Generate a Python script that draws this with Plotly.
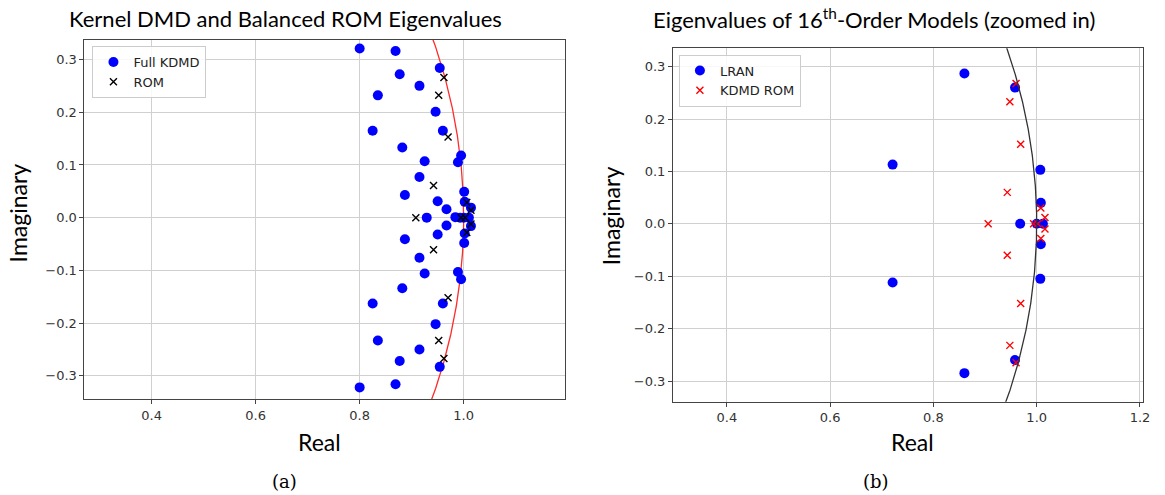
import numpy as np
import plotly.graph_objects as go

W, H = 1165, 495

# ---------------- data ----------------
# (a) Full KDMD eigenvalues
kdmd_real = [0.800, 0.869, 0.954, 0.877, 0.915, 0.835, 0.946, 0.825, 0.960, 0.882,
             0.995, 0.989, 0.925, 0.915, 0.887, 1.001, 0.950, 1.002, 0.967, 1.014,
             0.929, 0.984, 0.993, 1.000, 1.010,
             1.014, 0.967, 1.002, 0.950, 1.001, 0.887, 0.915, 0.925, 0.989, 0.995,
             0.882, 0.960, 0.825, 0.946, 0.835, 0.915, 0.877, 0.954, 0.869, 0.800]
kdmd_imag = [0.321, 0.316, 0.284, 0.272, 0.250, 0.232, 0.201, 0.165, 0.165, 0.133,
             0.118, 0.105, 0.107, 0.077, 0.043, 0.049, 0.031, 0.030, 0.016, 0.019,
             0.000, 0.001, 0.000, 0.000, 0.000,
             -0.016, -0.015, -0.030, -0.032, -0.048, -0.041, -0.076, -0.106, -0.103, -0.117,
             -0.134, -0.163, -0.163, -0.202, -0.233, -0.250, -0.272, -0.283, -0.316, -0.322]

# (a) balanced ROM eigenvalues
rom_real = [0.962, 0.952, 0.970, 0.942, 1.006, 1.014, 0.908, 0.995, 1.003,
            1.014, 1.006, 0.942, 0.970, 0.952, 0.962]
rom_imag = [0.266, 0.232, 0.153, 0.061, 0.029, 0.014, 0.000, 0.000, 0.000,
            -0.012, -0.028, -0.061, -0.152, -0.233, -0.267]

# (b) LRAN eigenvalues
lran_real = [0.860, 0.958, 0.721, 1.007, 1.008, 0.968, 1.000, 1.012,
             1.008, 1.007, 0.721, 0.958, 0.860]
lran_imag = [0.287, 0.260, 0.113, 0.103, 0.040, 0.000, 0.000, 0.000,
             -0.039, -0.105, -0.112, -0.260, -0.285]

# (b) KDMD ROM eigenvalues
krom_real = [0.960, 0.948, 0.969, 0.943, 1.008, 1.016, 0.906, 0.994, 1.002,
             1.016, 1.008, 0.943, 0.969, 0.948, 0.960]
krom_imag = [0.268, 0.233, 0.152, 0.060, 0.030, 0.012, 0.000, 0.000, 0.000,
             -0.010, -0.028, -0.060, -0.152, -0.232, -0.265]

tick_vals_x = [0.4, 0.6, 0.8, 1.0, 1.2]
tick_vals_y = [-0.3, -0.2, -0.1, 0.0, 0.1, 0.2, 0.3]

# unit circle reference
theta = np.linspace(-0.45, 0.45, 400)
circ_x = np.cos(theta)
circ_y = np.sin(theta)

# ---------------- figure ----------------
fig = go.Figure()

fig.add_trace(go.Scatter(x=circ_x, y=circ_y, mode="lines",
                         line=dict(color="#ff2a2a", width=1.3),
                         showlegend=False, xaxis="x", yaxis="y", hoverinfo="skip"))
fig.add_trace(go.Scatter(x=kdmd_real, y=kdmd_imag, mode="markers", name="Full KDMD",
                         marker=dict(color="#0000ff", size=10, line=dict(width=0)),
                         xaxis="x", yaxis="y", legend="legend"))
fig.add_trace(go.Scatter(x=rom_real, y=rom_imag, mode="markers", name="ROM",
                         marker=dict(color="black", symbol="x-thin", size=7,
                                     line=dict(color="black", width=1.4)),
                         xaxis="x", yaxis="y", legend="legend"))

fig.add_trace(go.Scatter(x=lran_real, y=lran_imag, mode="markers", name="LRAN",
                         marker=dict(color="#0000ff", size=10, line=dict(width=0)),
                         xaxis="x2", yaxis="y2", legend="legend2"))
fig.add_trace(go.Scatter(x=krom_real, y=krom_imag, mode="markers", name="KDMD ROM",
                         marker=dict(color="#ff0000", symbol="x-thin", size=7,
                                     line=dict(color="#ff0000", width=1.4)),
                         xaxis="x2", yaxis="y2", legend="legend2"))
fig.add_trace(go.Scatter(x=circ_x, y=circ_y, mode="lines",
                         line=dict(color="#333333", width=1.3),
                         showlegend=False, xaxis="x2", yaxis="y2", hoverinfo="skip"))

def px_x(p):
    return p / W

def px_y(p):
    return 1 - p / H

axis_common = dict(showgrid=True, gridcolor="#d0d0d0", gridwidth=1,
                   showline=True, linecolor="#444444", linewidth=1, mirror=True,
                   ticks="outside", ticklen=4, tickcolor="#444444",
                   tickfont=dict(family="DejaVu Sans", size=13, color="#333333"),
                   zeroline=False, fixedrange=True)

minus_labels = ["\u22120.3", "\u22120.2", "\u22120.1", "0.0", "0.1", "0.2", "0.3"]

fig.update_layout(
    width=W, height=H,
    margin=dict(l=0, r=0, t=0, b=0),
    paper_bgcolor="white", plot_bgcolor="white",
    xaxis=dict(domain=[px_x(85), px_x(568)], range=[0.271, 1.194],
               tickvals=tick_vals_x[:4], ticktext=["0.4", "0.6", "0.8", "1.0"],
               anchor="y", **axis_common),
    yaxis=dict(domain=[px_y(399), px_y(40)], range=[-0.344, 0.337],
               tickvals=tick_vals_y, ticktext=minus_labels,
               anchor="x", **axis_common),
    xaxis2=dict(domain=[px_x(677), px_x(1150)], range=[0.2956, 1.206],
                tickvals=tick_vals_x, ticktext=["0.4", "0.6", "0.8", "1.0", "1.2"],
                anchor="y2", **axis_common),
    yaxis2=dict(domain=[px_y(401.7), px_y(48.3)], range=[-0.3395, 0.335],
                tickvals=tick_vals_y, ticktext=minus_labels,
                anchor="x2", **axis_common),
    legend=dict(x=px_x(93), y=px_y(46), xanchor="left", yanchor="top",
                bgcolor="rgba(255,255,255,0.85)", bordercolor="#cccccc", borderwidth=1,
                font=dict(family="DejaVu Sans", size=13, color="#222222"),
                itemwidth=30, tracegroupgap=0),
    legend2=dict(x=px_x(683), y=px_y(54.5), xanchor="left", yanchor="top",
                 bgcolor="rgba(255,255,255,0.85)", bordercolor="#cccccc", borderwidth=1,
                 font=dict(family="DejaVu Sans", size=13, color="#222222"),
                 itemwidth=30, tracegroupgap=0),
    showlegend=True,
)

ann = []
title_font = dict(family="Lato", size=22, color="black")
ann.append(dict(text="Kernel DMD and Balanced ROM Eigenvalues", x=px_x(287.5), y=px_y(18),
                xref="paper", yref="paper", xanchor="center", yanchor="middle",
                showarrow=False, font=title_font))
ann.append(dict(text="Eigenvalues of 16<sup>th</sup>-Order Models (zoomed in)", x=px_x(879), y=px_y(18),
                xref="paper", yref="paper", xanchor="center", yanchor="middle",
                showarrow=False, font=title_font))
label_font = dict(family="Lato", size=23, color="black")
ann.append(dict(text="Real", x=px_x(321.5), y=px_y(442), xref="paper", yref="paper",
                xanchor="center", yanchor="middle", showarrow=False, font=label_font))
ann.append(dict(text="Real", x=px_x(918.5), y=px_y(442), xref="paper", yref="paper",
                xanchor="center", yanchor="middle", showarrow=False, font=label_font))
ann.append(dict(text="Imaginary", x=px_x(18.5), y=px_y(213), xref="paper", yref="paper",
                xanchor="center", yanchor="middle", showarrow=False, textangle=-90, font=label_font))
ann.append(dict(text="Imaginary", x=px_x(615), y=px_y(216), xref="paper", yref="paper",
                xanchor="center", yanchor="middle", showarrow=False, textangle=-90, font=label_font))
cap_font = dict(family="DejaVu Serif", size=18, color="black")
ann.append(dict(text="(a)", x=px_x(286), y=px_y(481), xref="paper", yref="paper",
                xanchor="center", yanchor="middle", showarrow=False, font=cap_font))
ann.append(dict(text="(b)", x=px_x(881), y=px_y(481), xref="paper", yref="paper",
                xanchor="center", yanchor="middle", showarrow=False, font=cap_font))
fig.update_layout(annotations=ann)

fig.write_html("out.html", config={"displayModeBar": False},
               post_script="document.body.style.margin='0';document.body.style.overflow='hidden';")
